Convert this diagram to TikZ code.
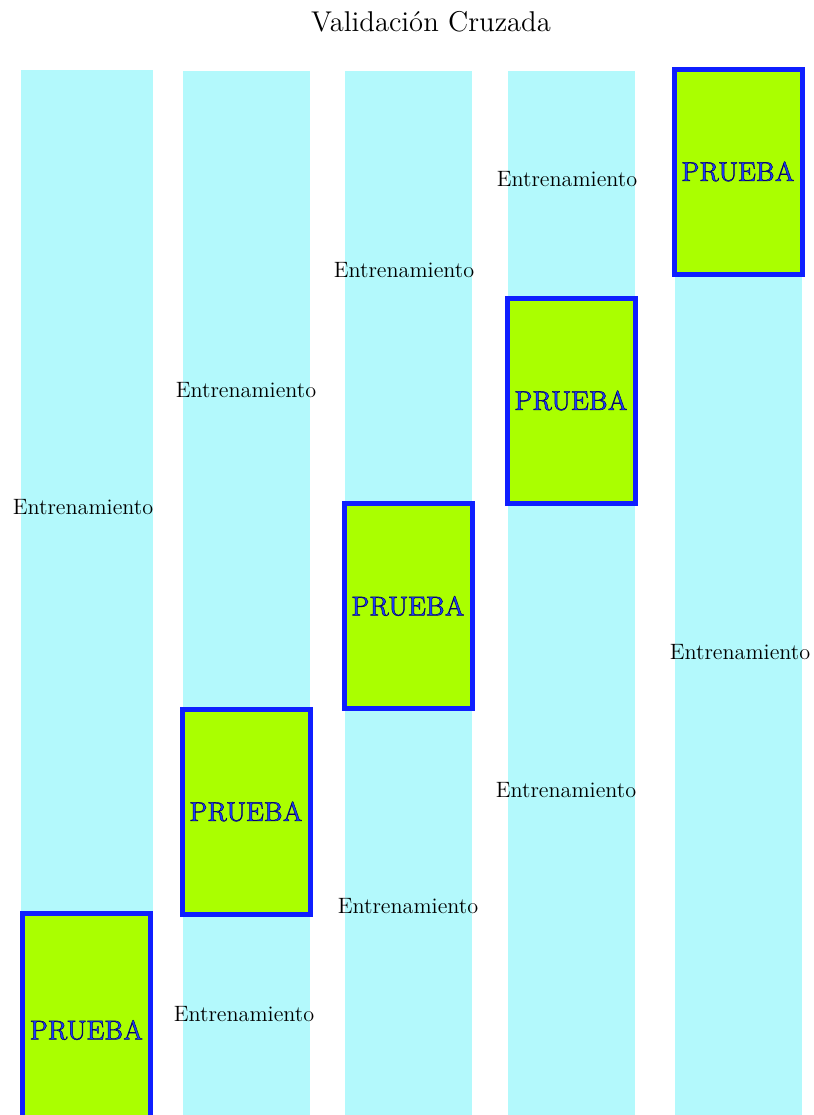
\documentclass[tikz,border=0pt]{standalone}
\usepackage{xcolor}
\usepackage{tikz}
\definecolor{trainfill}{HTML}{B3F9FC}
\definecolor{testfill}{HTML}{AAFF00}
\definecolor{testblue}{HTML}{0F1FFF}
\definecolor{testtextblue}{HTML}{1A3CFF}
% text drawn filled and stroked, as in the reference
\newcommand{\outlined}[1]{\special{pdf:literal direct 2 Tr 0.25 w 0.02 0.02 0.4 RG}#1\special{pdf:literal direct 0 Tr}}

\begin{document}
\begin{tikzpicture}[
  x=0.5pt,y=-0.5pt,
  fold/.style={fill=trainfill,inner sep=0pt,minimum height=524pt},
  testbox/.style={draw=testblue,line width=2.5pt,fill=testfill,inner sep=0pt,minimum width=64pt,minimum height=102.5pt,text=testtextblue,font=\fontsize{13.5}{16}\selectfont},
  trainlab/.style={font=\fontsize{11.1}{13}\selectfont,inner sep=0pt}
]
\useasboundingbox (0,0) rectangle (814,1115);
\node at (431,22) (title) {\fontsize{14.3}{17}\selectfont Validaci\'on Cruzada};
% folds
\node[fold,minimum width=66pt] at (87,594) (fold1) {};
\node[fold,minimum width=63.5pt] at (246.5,595) (fold2) {};
\node[fold,minimum width=63.5pt] at (408.5,595) (fold3) {};
\node[fold,minimum width=63.5pt] at (571.5,595) (fold4) {};
\node[fold,minimum width=63.5pt] at (738.5,595) (fold5) {};
% test blocks
\node[testbox,minimum height=117pt] at (86.5,1030) (test1) {\outlined{PRUEBA}};
\node[testbox] at (246,811.5) (test2) {\outlined{PRUEBA}};
\node[testbox] at (408,606) (test3) {\outlined{PRUEBA}};
\node[testbox] at (571,400.5) (test4) {\outlined{PRUEBA}};
\node[testbox] at (738,171.5) (test5) {\outlined{PRUEBA}};
% training labels
\node[trainlab] at (83,507) (train1) {Entrenamiento};
\node[trainlab] at (246,390) (train2a) {Entrenamiento};
\node[trainlab] at (244,1014) (train2b) {Entrenamiento};
\node[trainlab] at (404,270) (train3a) {Entrenamiento};
\node[trainlab] at (408,906) (train3b) {Entrenamiento};
\node[trainlab] at (567,179) (train4a) {Entrenamiento};
\node[trainlab] at (566,790) (train4b) {Entrenamiento};
\node[trainlab] at (740,652) (train5) {Entrenamiento};
\end{tikzpicture}
\end{document}
